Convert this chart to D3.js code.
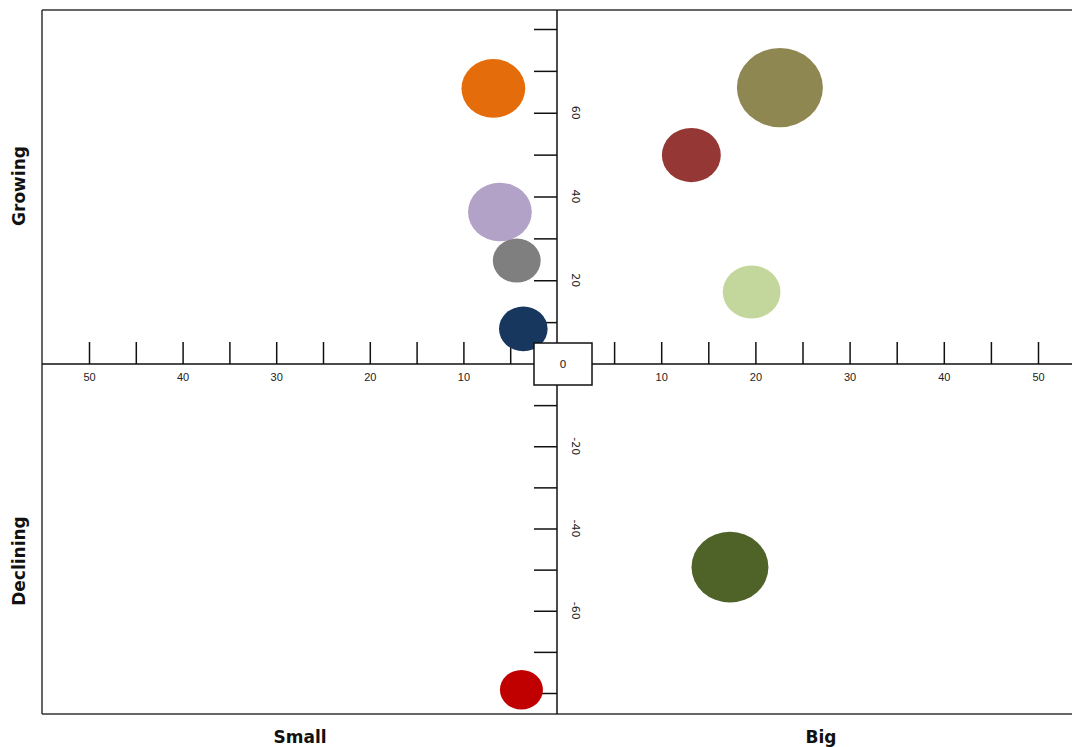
<!DOCTYPE html>
<html>
<head>
<meta charset="utf-8">
<script src="https://cdn.jsdelivr.net/npm/d3@7"></script>
<style>
body { margin: 0; background: #fff; }
svg { display: block; font-family: "DejaVu Sans", Verdana, sans-serif; }
.tick text { font-size: 11px; fill: #222; }
.tick line { stroke: #111; stroke-width: 1.5; }
.frame { stroke: #333; stroke-width: 1.5; }
.axisline { stroke: #111; stroke-width: 1.5; }
.label { font-size: 17px; font-weight: bold; fill: #111; }
</style>
</head>
<body>
<svg width="1072" height="747"></svg>
<script>
// bubbles: negative x = "Small" side
const names  = ["a", "b", "c", "d", "e", "f", "g", "h", "i"]
const xVals  = [-6.8, -6.1, -4.3, -3.6, -3.8, 22.6, 13.2, 19.6, 17.3]
const yVals  = [65.8, 36.3, 24.7, 8.4, -79.2, 66, 49.9, 17.2, -49.4]
const sizes  = [55, 55, 31, 32, 25, 100, 47, 45, 80]
const colors = ["#E46C0A", "#B3A2C7", "#7F7F7F", "#17375E", "#C00000", "#8F8751", "#953735", "#C3D69B", "#4F6228"]

const xTicks = [5, 10, 15, 20, 25, 30, 35, 40, 45, 50]
const yTicks = [-80, -70, -60, -50, -40, -30, -20, -10, 10, 20, 30, 40, 50, 60, 70, 80]
const yLabels = [-60, -40, -20, 20, 40, 60]

const data = names.map((n, i) => ({name: n, x: xVals[i], y: yVals[i], size: sizes[i], color: colors[i]}))

const svg = d3.select("svg")

const x0 = 42, x1 = 1072, y0 = 10, y1 = 714

const smallScale = d3.scaleLinear()
	.domain([0, 50])
	.range([557, 89])

const bigScale = d3.scaleLinear()
	.domain([0, 50])
	.range([567, 1038])

const yScale = d3.scaleLinear()
	.domain([-80, 0, 80])
	.range([693, 364, 29])

const rScale = d3.scaleSqrt()
	.domain([0, 100])
	.range([0, 43])

const xPos = v => v < 0 ? smallScale(-v) : bigScale(v)

// frame
svg.append("line").attr("class", "frame")
	.attr("x1", x0).attr("y1", y0).attr("x2", x1).attr("y2", y0)
svg.append("line").attr("class", "frame")
	.attr("x1", x0).attr("y1", y0).attr("x2", x0).attr("y2", y1)
svg.append("line").attr("class", "frame")
	.attr("x1", x0).attr("y1", y1).attr("x2", x1).attr("y2", y1)

// center axes
svg.append("line").attr("class", "axisline")
	.attr("x1", x0).attr("y1", yScale(0)).attr("x2", x1).attr("y2", yScale(0))
svg.append("line").attr("class", "axisline")
	.attr("x1", smallScale(0)).attr("y1", y0).attr("x2", smallScale(0)).attr("y2", y1)

const fmt = d => d % 10 === 0 ? d : ""

svg.append("g")
	.attr("transform", `translate(0,${yScale(0)})`)
	.call(d3.axisBottom(smallScale).tickValues(xTicks).tickFormat(fmt).tickSize(-22).tickPadding(9))
	.call(g => g.select(".domain").remove())

svg.append("g")
	.attr("transform", `translate(0,${yScale(0)})`)
	.call(d3.axisBottom(bigScale).tickValues(xTicks).tickFormat(fmt).tickSize(-22).tickPadding(9))
	.call(g => g.select(".domain").remove())

svg.append("g")
	.attr("transform", `translate(${smallScale(0)},0)`)
	.call(d3.axisRight(yScale).tickValues(yTicks).tickFormat("").tickSize(-23))
	.call(g => g.select(".domain").remove())

svg.selectAll("text.ylab")
	.data(yLabels)
	.enter()
	.append("text")
	.attr("class", "ylab")
	.attr("transform", d => `translate(${smallScale(0) + 18},${yScale(d)}) rotate(90)`)
	.attr("text-anchor", "middle")
	.attr("dominant-baseline", "central")
	.style("font-size", "11px")
	.style("fill", "#222")
	.text(d => d)

// bubbles
svg.selectAll("ellipse.bubble")
	.data(data)
	.enter()
	.append("ellipse")
	.attr("class", "bubble")
	.attr("cx", d => xPos(d.x))
	.attr("cy", d => yScale(d.y))
	.attr("rx", d => rScale(d.size))
	.attr("ry", d => rScale(d.size) * 0.92)
	.attr("fill", d => d.color)

// zero box
svg.append("rect")
	.attr("x", 534).attr("y", 343)
	.attr("width", 58).attr("height", 42)
	.attr("fill", "#fff")
	.attr("stroke", "#111")
	.attr("stroke-width", 1.5)

svg.append("text")
	.attr("x", 563).attr("y", yScale(0))
	.attr("text-anchor", "middle")
	.attr("dominant-baseline", "central")
	.style("font-size", "11px")
	.style("fill", "#222")
	.text("0")

// quadrant labels
svg.append("text").attr("class", "label")
	.attr("transform", `translate(25,186) rotate(-90)`)
	.attr("text-anchor", "middle")
	.text("Growing")

svg.append("text").attr("class", "label")
	.attr("transform", `translate(25,561) rotate(-90)`)
	.attr("text-anchor", "middle")
	.text("Declining")

svg.append("text").attr("class", "label")
	.attr("x", 300).attr("y", 743)
	.attr("text-anchor", "middle")
	.text("Small")

svg.append("text").attr("class", "label")
	.attr("x", 821).attr("y", 743)
	.attr("text-anchor", "middle")
	.text("Big")
</script>
</body>
</html>
